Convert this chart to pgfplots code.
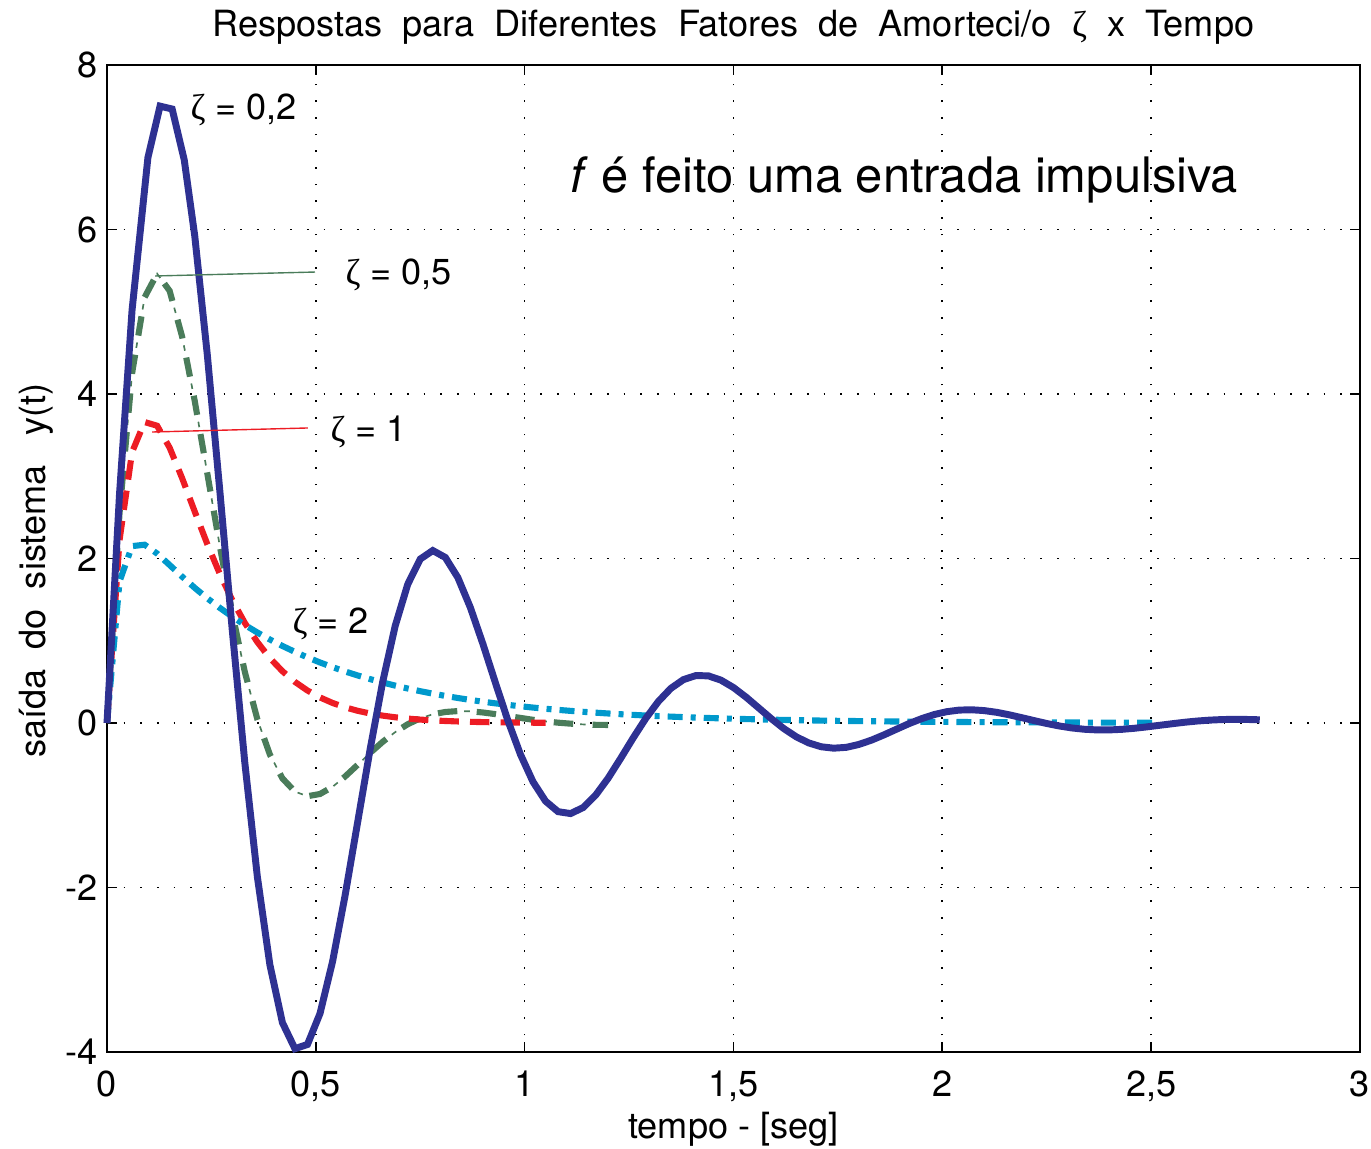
\documentclass[border=0pt]{standalone}
\usepackage{fontspec}
\setmainfont{TeX Gyre Heros}
\newfontfamily\grk{Liberation Serif}
\usepackage{pgfplots}
\pgfplotsset{compat=1.18}
\definecolor{cblue}{RGB}{46,49,146}
\definecolor{cgreen}{RGB}{74,124,90}
\definecolor{cred}{RGB}{237,28,36}
\definecolor{ccyan}{RGB}{0,153,204}
\newcommand{\fs}{\fontsize{13}{15}\selectfont}
\begin{document}
\begin{tikzpicture}
\useasboundingbox (-38.52pt,-34.56pt) rectangle (455.04pt,378.72pt);
\begin{axis}[at={(0pt,0pt)}, anchor=south west, scale only axis,
  width=451.08pt, height=355.32pt,
  xmin=0, xmax=3, ymin=-4, ymax=8,
  xtick={0,0.5,...,3}, ytick={-4,-2,...,8},
  grid=major,
  major grid style={black, line width=0.6pt, dash pattern=on 0.6pt off 5.4pt},
  axis line style={line width=0.9pt},
  major tick style={black, line width=0.6pt},
  major tick length=3.6pt,
  tick label style={font=\fs},
  /pgf/number format/assume math mode=true,
  /pgf/number format/use comma,
  xticklabel style={yshift=-3.3pt},
  title={Respostas\ \ para\ \ Diferentes\ \ Fatores\ \ de\ \ Amorteci/o\ \ {\grk ζ}\ \ x\ \ Tempo},
  title style={font=\fs, at={(axis description cs:0.5,1)}, anchor=base, yshift=10.4pt},
  every axis title shift=0pt,
  xlabel={tempo - [seg]},
  xlabel style={font=\fs, at={([yshift=-31pt]axis description cs:0.5,0)}, anchor=base},
  ylabel={saída\ \ do\ \ sistema\ \ \ y(t)},
  ylabel style={font=\fs, at={([xshift=-22.3pt]axis description cs:0,0.488)}, anchor=base},
  clip=false,
]
% zeta = 0.5 (green)
\addplot[cgreen, line width=2.2pt, dash pattern=on 7pt off 7pt] coordinates {
(0,0)(0.03,2.553)(0.06,4.248)(0.09,5.175)(0.12,5.463)(0.15,5.254)(0.18,4.695)(0.21,3.917)(0.24,3.039)(0.27,2.154)(0.30,1.333)(0.33,0.621)(0.36,0.046)(0.39,-0.384)(0.42,-0.673)(0.45,-0.834)(0.48,-0.890)(0.51,-0.863)(0.54,-0.776)(0.57,-0.651)(0.60,-0.509)(0.63,-0.364)(0.66,-0.229)(0.69,-0.111)(0.72,-0.015)(0.75,0.057)(0.78,0.106)(0.81,0.134)(0.84,0.145)(0.87,0.142)(0.90,0.128)(0.93,0.108)(0.96,0.085)(0.99,0.062)(1.02,0.039)(1.05,0.020)(1.08,0.004)(1.11,-0.008)(1.14,-0.017)(1.17,-0.022)(1.20,-0.024)};
\addplot[cgreen, line width=0.6pt, dash pattern=on 0pt off 9.5pt on 2pt off 2.5pt] coordinates {
(0,0)(0.03,2.553)(0.06,4.248)(0.09,5.175)(0.12,5.463)(0.15,5.254)(0.18,4.695)(0.21,3.917)(0.24,3.039)(0.27,2.154)(0.30,1.333)(0.33,0.621)(0.36,0.046)(0.39,-0.384)(0.42,-0.673)(0.45,-0.834)(0.48,-0.890)(0.51,-0.863)(0.54,-0.776)(0.57,-0.651)(0.60,-0.509)(0.63,-0.364)(0.66,-0.229)(0.69,-0.111)(0.72,-0.015)(0.75,0.057)(0.78,0.106)(0.81,0.134)(0.84,0.145)(0.87,0.142)(0.90,0.128)(0.93,0.108)(0.96,0.085)(0.99,0.062)(1.02,0.039)(1.05,0.020)(1.08,0.004)(1.11,-0.008)(1.14,-0.017)(1.17,-0.022)(1.20,-0.024)};
% zeta = 1 (red)
\addplot[cred, line width=2.2pt, dash pattern=on 7pt off 4pt] coordinates {
(0,0)(0.03,2.2225)(0.06,3.2929)(0.09,3.6591)(0.12,3.6143)(0.15,3.3470)(0.18,2.9754)(0.21,2.5716)(0.24,2.1772)(0.27,1.8146)(0.30,1.4936)(0.33,1.2171)(0.36,0.9837)(0.39,0.7894)(0.42,0.6298)(0.45,0.4999)(0.48,0.3950)(0.51,0.3109)(0.54,0.2439)(0.57,0.1907)(0.60,0.1487)(0.63,0.1157)(0.66,0.0898)(0.69,0.0695)(0.72,0.0538)(0.75,0.0415)(0.78,0.0320)(0.81,0.0246)(0.84,0.0189)(0.87,0.0145)(0.90,0.0111)(0.93,0.0085)(0.96,0.0065)(0.99,0.0050)(1.02,0.0038)(1.05,0.0029)};
% zeta = 2 (cyan)
\addplot[ccyan, line width=2.2pt, dash pattern=on 5.4pt off 2.9pt on 1.8pt off 2.9pt] coordinates {
(0,0)(0.03,1.7215)(0.06,2.1505)(0.09,2.1678)(0.12,2.0603)(0.15,1.9207)(0.18,1.7787)(0.21,1.6434)(0.24,1.5171)(0.27,1.4003)(0.30,1.2921)(0.33,1.1923)(0.36,1.1002)(0.39,1.0153)(0.42,0.9368)(0.45,0.8645)(0.48,0.7977)(0.51,0.7361)(0.54,0.6792)(0.57,0.6268)(0.60,0.5784)(0.63,0.5337)(0.66,0.4925)(0.69,0.4544)(0.72,0.4193)(0.75,0.3870)(0.78,0.3571)(0.81,0.3295)(0.84,0.3041)(0.87,0.2806)(0.90,0.2589)(0.93,0.2389)(0.96,0.2204)(0.99,0.2034)(1.02,0.1877)(1.05,0.1732)(1.08,0.1598)(1.11,0.1475)(1.14,0.1361)(1.17,0.1256)(1.20,0.1159)(1.23,0.1069)(1.26,0.0987)(1.29,0.0911)(1.32,0.0840)(1.35,0.0775)(1.38,0.0715)(1.41,0.0660)(1.44,0.0609)(1.47,0.0562)(1.50,0.0519)(1.53,0.0479)(1.56,0.0442)(1.59,0.0408)(1.62,0.0376)(1.65,0.0347)(1.68,0.0320)(1.71,0.0295)(1.74,0.0273)(1.77,0.0252)(1.80,0.0232)(1.83,0.0214)(1.86,0.0198)(1.89,0.0182)(1.92,0.0168)(1.95,0.0155)(1.98,0.0143)(2.01,0.0132)(2.04,0.0122)(2.07,0.0113)(2.10,0.0104)(2.13,0.0096)(2.16,0.0089)(2.19,0.0082)(2.22,0.0075)(2.25,0.0070)(2.28,0.0064)(2.31,0.0059)(2.34,0.0055)(2.37,0.0050)(2.40,0.0047)(2.43,0.0043)(2.46,0.0040)(2.49,0.0037)(2.52,0.0034)};
% zeta = 0.2 (blue)
\addplot[cblue, line width=2.5pt] coordinates {
(0,0)(0.03,2.785)(0.06,5.020)(0.098,6.875)(0.127,7.500)(0.156,7.465)(0.185,6.845)(0.21,5.927)(0.24,4.486)(0.27,2.831)(0.30,1.125)(0.33,-0.483)(0.36,-1.869)(0.39,-2.940)(0.42,-3.643)(0.45,-3.960)(0.48,-3.908)(0.51,-3.532)(0.54,-2.902)(0.57,-2.099)(0.60,-1.210)(0.63,-0.319)(0.66,0.498)(0.69,1.180)(0.72,1.686)(0.75,1.993)(0.78,2.097)(0.81,2.013)(0.84,1.769)(0.87,1.404)(0.90,0.962)(0.93,0.489)(0.96,0.028)(0.99,-0.383)(1.02,-0.715)(1.05,-0.950)(1.08,-1.078)(1.11,-1.101)(1.14,-1.028)(1.17,-0.877)(1.20,-0.670)(1.23,-0.429)(1.26,-0.180)(1.29,0.056)(1.32,0.261)(1.35,0.421)(1.38,0.527)(1.41,0.577)(1.44,0.573)(1.47,0.521)(1.50,0.431)(1.53,0.315)(1.56,0.185)(1.59,0.055)(1.62,-0.066)(1.65,-0.167)(1.68,-0.242)(1.71,-0.289)(1.74,-0.306)(1.77,-0.296)(1.80,-0.261)(1.83,-0.209)(1.86,-0.145)(1.89,-0.076)(1.92,-0.008)(1.95,0.052)(1.98,0.102)(2.01,0.137)(2.04,0.157)(2.07,0.161)(2.10,0.151)(2.13,0.130)(2.16,0.100)(2.19,0.065)(2.22,0.029)(2.25,-0.006)(2.28,-0.036)(2.31,-0.060)(2.34,-0.076)(2.37,-0.084)(2.40,-0.084)(2.43,-0.077)(2.46,-0.064)(2.49,-0.047)(2.52,-0.028)(2.55,-0.009)(2.58,0.009)(2.61,0.024)(2.64,0.035)(2.67,0.042)(2.70,0.045)(2.73,0.043)(2.76,0.039)};
% annotation leader lines
\draw[cgreen, line width=0.5pt] (axis cs:0.115,5.435) -- (axis cs:0.498,5.483);
\draw[cred, line width=0.5pt] (axis cs:0.108,3.538) -- (axis cs:0.481,3.587);
% labels
\node[anchor=west, inner sep=0pt, font=\fs] at (axis cs:0.199,7.453) {{\grk ζ} = 0,2};
\node[anchor=west, inner sep=0pt, font=\fs] at (axis cs:0.570,5.447) {{\grk ζ} = 0,5};
\node[anchor=west, inner sep=0pt, font=\fs] at (axis cs:0.534,3.538) {{\grk ζ} = 1};
\node[anchor=west, inner sep=0pt, font=\fs] at (axis cs:0.443,1.204) {{\grk ζ} = 2};
\node[anchor=base west, inner sep=0pt, font=\fontsize{17.6}{20}\selectfont] at (axis cs:1.108,6.444) {\textit{f} é feito uma entrada impulsiva};
\end{axis}
\end{tikzpicture}
\end{document}
